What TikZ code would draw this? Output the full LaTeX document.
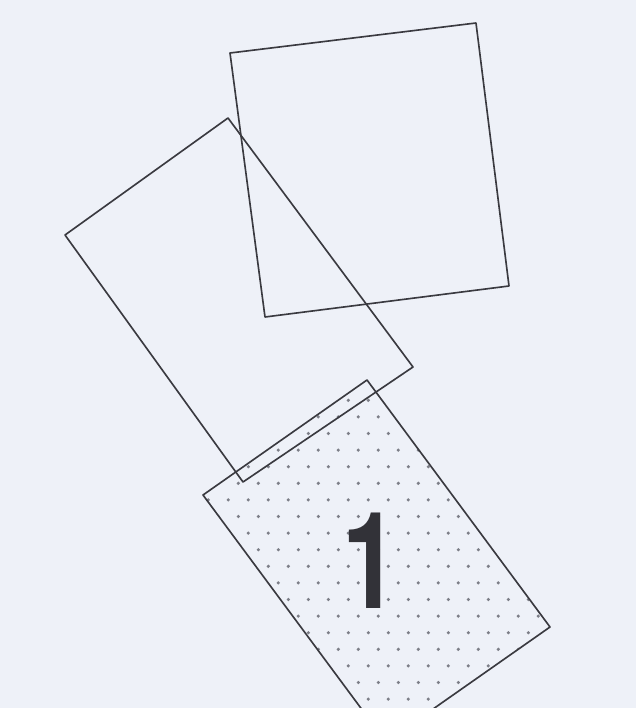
\documentclass[tikz,border=0pt]{standalone}
\usepackage{fontspec}
\newfontfamily\numfont{TeX Gyre Heros}
\definecolor{paper}{RGB}{238,241,248}
\definecolor{ink}{RGB}{58,58,64}
\definecolor{dotgray}{RGB}{125,127,136}
\definecolor{numink}{RGB}{50,50,56}

\begin{document}
\begin{tikzpicture}[x=0.03cm,y=-0.03cm,line cap=round,line join=round,
  sheet/.style={draw=ink,line width=1.4pt}]

  % page
  \fill[paper] (0,0) rectangle (636,708);
  \useasboundingbox (0,0) rectangle (636,708);
  \clip (0,0) rectangle (636,708);

  % corners of the three sheets
  \coordinate (a1) at (230,53);  \coordinate (a2) at (476,23);
  \coordinate (a3) at (509,286); \coordinate (a4) at (265,317);
  \coordinate (b1) at (228,118); \coordinate (b2) at (413,367);
  \coordinate (b3) at (243,482); \coordinate (b4) at (65,235);
  \coordinate (c1) at (367,380); \coordinate (c2) at (550,627);
  \coordinate (c3) at (386,742); \coordinate (c4) at (203,495);

  % dotted sheet
  \begin{scope}
    \clip (c1) -- (c2) -- (c3) -- (c4) -- cycle;
    \foreach \j in {0,...,23}
      \foreach \i in {9,...,28}
        \fill[dotgray] ({8.3+20*\i-10*mod(\j,2)},{367.1+16.6*\j}) circle[radius=1.5pt];
  \end{scope}
  \draw[sheet] (c1) -- (c2) -- (c3) -- (c4) -- cycle;

  % open sheets
  \draw[sheet] (a1) -- (a2) -- (a3) -- (a4) -- cycle;
  \draw[sheet] (b1) -- (b2) -- (b3) -- (b4) -- cycle;

  % number
  \node[inner sep=0pt,xscale=0.75,text=numink,font=\numfont\bfseries\fontsize{115}{115}\selectfont]
    (num) at (370.5,561) {1};
\end{tikzpicture}
\end{document}
